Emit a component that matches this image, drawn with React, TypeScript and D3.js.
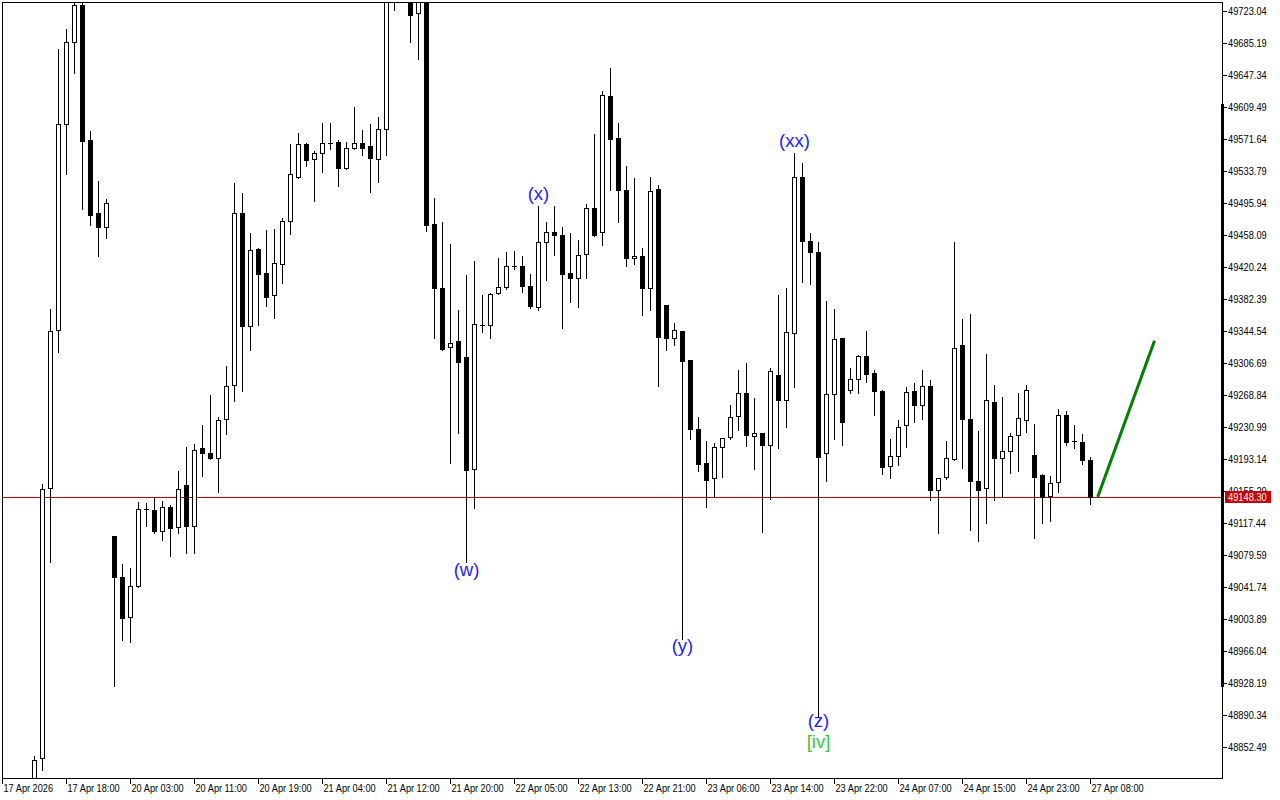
import React from "react";
import * as d3 from "d3";

// ---- OHLC data (hourly candles, index 0 = 17 Apr 14:00) ----
const opens = [
  48801.6, 48839.5, 49158.8, 49345.7, 49589.4, 49686.4, 49730.1, 49570.5, 49484.1, 49467.5,
  49102.1, 49053.5, 49006.2, 49042.9, 49134.0, 49132.8, 49108.0, 49136.4, 49112.7, 49162.4,
  49113.9, 49206.2, 49200.3, 49194.3, 49240.5, 49280.7, 49484.1, 49350.4, 49441.5, 49413.1,
  49387.1, 49423.8, 49474.6, 49526.7, 49565.7, 49548.0, 49555.1, 49566.9, 49568.1, 49537.3,
  49561.0, 49566.9, 49563.4, 49548.0, 49583.5, 49762, 49780, 49770, 49720.7, 49738,
  49471.1, 49395.4, 49325.6, 49332.7, 49313.8, 49181.3, 49351.6, 49351.6, 49389.5, 49396.6,
  49421.4, 49421.4, 49397.8, 49372.9, 49449.8, 49461.6, 49458.1, 49413.1, 49407.2, 49435.6,
  49490.0, 49461.6, 49622.5, 49572.8, 49511.3, 49430.9, 49433.2, 49395.4, 49512.5, 49375.3,
  49336.2, 49344.5, 49310.3, 49228.7, 49188.4, 49170.7, 49207.3, 49219.2, 49244.0, 49271.2,
  49220.4, 49223.9, 49209.7, 49292.5, 49262.9, 49342.2, 49526.7, 49451.0, 49438.0, 49200.3,
  49270.0, 49336.2, 49274.7, 49287.7, 49315.0, 49294.8, 49273.6, 49184.9, 49196.7, 49233.4,
  49273.6, 49257.0, 49279.5, 49156.5, 49171.9, 49193.1, 49328.0, 49240.5, 49167.1, 49158.8,
  49260.6, 49194.3, 49202.6, 49221.5, 49239.3, 49197.9, 49174.2, 49149.4, 49165.9, 49245.2,
  49214.4, 49213.3, 49192.0,
];
const highs = [
  48843.0, 49164.8, 49371.7, 49679.3, 49702.9, 49742, 49738, 49582.3, 49523.1, 49501.9,
  49103.0, 49070.1, 49065.4, 49143.4, 49142.3, 49148.2, 49144.6, 49139.9, 49180.1, 49208.5,
  49212.1, 49234.6, 49270.0, 49244.0, 49304.3, 49520.8, 49508.9, 49461.6, 49443.9, 49465.2,
  49466.3, 49479.4, 49566.9, 49579.9, 49568.1, 49558.6, 49591.7, 49591.7, 49571.6, 49569.3,
  49610.7, 49583.5, 49590.6, 49598.8, 49770, 49795, 49810, 49778, 49745, 49742,
  49503.0, 49474.6, 49448.6, 49370.5, 49411.9, 49428.5, 49388.3, 49390.7, 49432.1, 49439.2,
  49440.3, 49434.4, 49413.1, 49493.6, 49474.6, 49493.6, 49468.7, 49461.6, 49453.4, 49496.0,
  49578.7, 49629.6, 49656.8, 49591.7, 49540.9, 49526.7, 49443.9, 49527.9, 49518.4, 49376.0,
  49355.2, 49345.5, 49311.0, 49244.0, 49215.6, 49213.3, 49218.0, 49258.2, 49299.6, 49307.9,
  49266.5, 49225.0, 49302.0, 49388.3, 49396.6, 49556.3, 49544.5, 49461.6, 49451.0, 49381.2,
  49371.7, 49337.0, 49302.0, 49317.3, 49345.7, 49299.6, 49275.9, 49218.0, 49240.5, 49279.5,
  49284.2, 49299.6, 49287.7, 49171.5, 49215.6, 49451.0, 49359.9, 49365.8, 49227.5, 49318.5,
  49281.9, 49267.7, 49225.1, 49272.4, 49281.9, 49235.7, 49176.6, 49174.2, 49253.5, 49251.1,
  49234.6, 49223.9, 49196.7,
];
const lows = [
  48790, 48825.3, 49071.3, 49319.7, 49530.2, 49649.7, 49488.9, 49469.9, 49433.2, 49454.5,
  48924.6, 48979.0, 48976.7, 49041.5, 49113.9, 49105.6, 49097.3, 49078.4, 49105.6, 49082.0,
  49082.0, 49173.0, 49193.0, 49154.1, 49222.7, 49261.7, 49273.6, 49322.0, 49351.6, 49374.1,
  49359.9, 49401.3, 49459.3, 49525.5, 49539.7, 49498.3, 49532.6, 49559.8, 49516.1, 49536.0,
  49560.0, 49552.7, 49508.9, 49520.8, 49552.7, 49724.2, 49748, 49686.4, 49666.3, 49462.8,
  49336.2, 49322.0, 49188.4, 49223.9, 49071.3, 49135.2, 49343.4, 49336.2, 49388.5, 49394.2,
  49417.9, 49390.7, 49371.7, 49369.4, 49404.9, 49434.4, 49348.1, 49378.8, 49372.9, 49407.2,
  49457.0, 49446.3, 49511.3, 49473.5, 49421.4, 49423.8, 49363.5, 49369.4, 49279.5, 49322.0,
  49328.0, 48980.2, 49216.8, 49179.0, 49136.4, 49149.4, 49171.9, 49216.8, 49227.5, 49208.5,
  49181.3, 49106.8, 49145.8, 49206.2, 49231.0, 49278.3, 49402.5, 49400.2, 48889.2, 49167.1,
  49216.8, 49209.7, 49271.2, 49271.2, 49284.2, 49245.2, 49175.4, 49170.7, 49186.1, 49207.3,
  49236.9, 49240.5, 49144.6, 49105.6, 49169.5, 49192.0, 49182.5, 49109.2, 49096.2, 49117.4,
  49144.6, 49148.2, 49176.6, 49179.0, 49225.1, 49099.7, 49117.4, 49119.8, 49154.1, 49209.7,
  49206.2, 49187.3, 49139.9,
];
const closes = [
  48837.1, 49157.7, 49344.5, 49589.4, 49686.4, 49730.1, 49569.3, 49481.8, 49467.5, 49496.0,
  49053.5, 49005.0, 49042.9, 49134.0, 49134.0, 49108.0, 49136.4, 49111.5, 49157.7, 49113.9,
  49203.8, 49200.3, 49194.3, 49239.3, 49279.5, 49484.1, 49350.4, 49440.3, 49411.9, 49384.8,
  49424.9, 49474.6, 49530.2, 49565.7, 49546.8, 49555.1, 49566.9, 49566.9, 49537.3, 49561.0,
  49566.9, 49561.0, 49549.2, 49583.5, 49762, 49780, 49770, 49718.3, 49738, 49469.9,
  49395.4, 49323.2, 49330.3, 49307.9, 49180.1, 49352.8, 49351.6, 49388.3, 49396.6, 49421.4,
  49421.4, 49397.8, 49374.1, 49449.8, 49461.6, 49458.1, 49411.9, 49407.2, 49434.4, 49490.0,
  49458.1, 49623.7, 49571.6, 49511.3, 49430.9, 49433.2, 49395.4, 49510.1, 49337.4, 49336.2,
  49345.7, 49309.1, 49228.7, 49187.3, 49168.3, 49207.3, 49218.0, 49242.8, 49271.2, 49221.5,
  49223.9, 49209.7, 49297.2, 49262.9, 49343.4, 49526.7, 49451.0, 49438.0, 49195.5, 49270.0,
  49335.0, 49236.9, 49287.7, 49315.0, 49293.7, 49273.6, 49183.7, 49196.7, 49231.0, 49272.4,
  49257.0, 49279.5, 49156.5, 49170.7, 49194.3, 49324.4, 49240.5, 49167.1, 49156.5, 49262.9,
  49194.3, 49202.6, 49220.4, 49241.7, 49274.7, 49171.9, 49148.2, 49164.8, 49245.2, 49213.3,
  49214.4, 49192.0, 49148.3,
];

// ---- axes ----
const priceTicks = [
  49723.04, 49685.19, 49647.34, 49609.49, 49571.64, 49533.79, 49495.94, 49458.09,
  49420.24, 49382.39, 49344.54, 49306.69, 49268.84, 49230.99, 49193.14, 49155.29,
  49117.44, 49079.59, 49041.74, 49003.89, 48966.04, 48928.19, 48890.34, 48852.49,
];
const timeTickIdx = [-4, 4, 12, 20, 28, 36, 44, 52, 60, 68, 76, 84, 92, 100, 108, 116, 124, 132];
const timeTickLabels = [
  "17 Apr 2026", "17 Apr 18:00", "20 Apr 03:00", "20 Apr 11:00", "20 Apr 19:00",
  "21 Apr 04:00", "21 Apr 12:00", "21 Apr 20:00", "22 Apr 05:00", "22 Apr 13:00",
  "22 Apr 21:00", "23 Apr 06:00", "23 Apr 14:00", "23 Apr 22:00", "24 Apr 07:00",
  "24 Apr 15:00", "24 Apr 23:00", "27 Apr 08:00",
];
const bidPrice = 49148.3;
const rangeBarHigh = 49613;
const rangeBarLow = 48923;

// ---- wave annotations ----
const waveLabels = ["(w)", "(x)", "(y)", "(xx)", "(z)", "[iv]"];
const waveIdx = [54, 63, 81, 95, 98, 98];
const waveAt = ["low", "high", "low", "high", "low", "low"];
const waveColors = ["#1e1eff", "#1e1eff", "#1e1eff", "#1e1eff", "#1e1eff", "#33cc33"];
const waveLineIdx = [132.9, 140];
const waveLinePrice = [49148.3, 49333];

export default function App() {
  const W = 1280;
  const H = 800;
  const L = 2.5, T = 2.5, R = 1222.5, B = 778.5;

  const x = d3.scaleLinear().domain([0, 1]).range([34.5, 42.5]);
  const y = d3.scaleLinear().domain([48852.49, 49723.04]).range([747, 11]);
  const py = (v: number) => Math.round(y(v));

  const candles = opens.map((o, i) => {
    const c = closes[i];
    const cx = x(i);
    const up = c >= o;
    const yt = py(Math.max(o, c));
    const yb = py(Math.min(o, c));
    return (
      <g key={i}>
        <line x1={cx} x2={cx} y1={py(highs[i]) + 0.5} y2={py(lows[i]) + 0.5} stroke="#000" strokeWidth={1} />
        {yb - yt < 1 ? (
          <line x1={cx - 2.5} x2={cx + 2.5} y1={yt + 0.5} y2={yt + 0.5} stroke="#000" strokeWidth={1} />
        ) : (
          <rect x={cx - 2} y={yt + 0.5} width={4} height={yb - yt} fill={up ? "#fff" : "#000"} stroke="#000" strokeWidth={1} />
        )}
      </g>
    );
  });

  const axisFont = "'Liberation Sans', Arial, sans-serif";
  const bidY = py(bidPrice) + 0.5;

  const waveOffsets: Record<string, number> = { "(w)": 14, "(x)": -5, "(y)": 13, "(xx)": -5, "(z)": 11, "[iv]": 32 };

  const wl = d3.line<number>().x((d, i) => x(waveLineIdx[i])).y((d) => y(d));

  return (
    <svg width={W} height={H} style={{ position: "absolute", left: 0, top: 0, background: "#fff" }}>
      <defs>
        <clipPath id="plot">
          <rect x={3} y={3} width={1219} height={775} />
        </clipPath>
      </defs>
      <rect x={0} y={0} width={W} height={H} fill="#fff" />
      <g clipPath="url(#plot)" shapeRendering="crispEdges">
        <line x1={L} x2={R} y1={bidY} y2={bidY} stroke="#c80000" strokeWidth={1} />
        {candles}
      </g>
      <g clipPath="url(#plot)">
        <path d={wl(waveLinePrice) || ""} fill="none" stroke="#008000" strokeWidth={3} />
      </g>
      {waveLabels.map((t, k) => {
        const i = waveIdx[k];
        const base = waveAt[k] === "low" ? y(lows[i]) : y(highs[i]);
        return (
          <text key={t} x={x(i)} y={base + waveOffsets[t]} textAnchor="middle" fontFamily={axisFont} fontSize={18.5} fill={waveColors[k]}>
            {t}
          </text>
        );
      })}
      <g shapeRendering="crispEdges">
        <rect x={L} y={T} width={R - L} height={B - T} fill="none" stroke="#000" strokeWidth={1} />
        {priceTicks.map((p) => {
          const ty = py(p) + 0.5;
          return <line key={p} x1={R} x2={R + 4} y1={ty} y2={ty} stroke="#000" />;
        })}
        {timeTickIdx.map((idx) => {
          const tx = x(idx);
          return <line key={idx} x1={tx} x2={tx} y1={B} y2={B + 5} stroke="#000" />;
        })}
      </g>
      {priceTicks.map((p) => {
        const ty = py(p) + 0.5;
        return (
          <g key={p} transform={`translate(1228,${ty + 3.5}) scale(0.93,1)`}>
            <text x={0} y={0} fontFamily={axisFont} fontSize={10} fill="#000">{p.toFixed(2)}</text>
          </g>
        );
      })}
      {timeTickIdx.map((idx, k) => (
        <g key={idx} transform={`translate(${x(idx) + 1},792) scale(0.92,1)`}>
          <text x={0} y={0} fontFamily={axisFont} fontSize={10} fill="#000">{timeTickLabels[k]}</text>
        </g>
      ))}
      <rect x={1225} y={bidY - 6.5} width={46} height={12} fill="#cc0000" />
      <g transform={`translate(1228,${bidY + 3.5}) scale(0.93,1)`}>
        <text x={0} y={0} fontFamily={axisFont} fontSize={10} fill="#fff">{bidPrice.toFixed(2)}</text>
      </g>
      <rect x={1221} y={py(rangeBarHigh)} width={3} height={py(rangeBarLow) - py(rangeBarHigh)} fill="#000" />
    </svg>
  );
}
